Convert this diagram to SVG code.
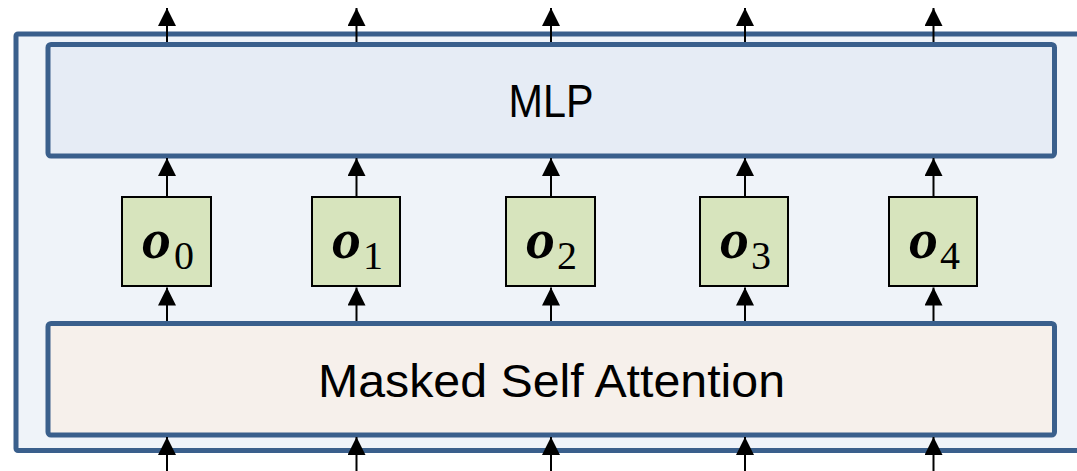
<svg xmlns="http://www.w3.org/2000/svg" width="1077" height="471" viewBox="0 0 1077 471">
  <defs>
    <marker id="ah" markerUnits="userSpaceOnUse" markerWidth="18" markerHeight="18" viewBox="0 0 17 17" refX="17" refY="8.5" orient="auto">
      <path d="M0,0 L17,8.5 L0,17 z" fill="#000"/>
    </marker>
    <style>
      .blk { stroke: #3a5f8c; stroke-width: 5; }
      .conn { stroke: #000; stroke-width: 2; fill: none; marker-end: url(#ah); }
      .obox { fill: #d7e4bd; stroke: #000; stroke-width: 2; }
      .lbl { font-family: "Liberation Sans", Arial, sans-serif; fill: #000; text-anchor: middle; }
      .ov { font-family: "Liberation Serif", "Times New Roman", serif; font-weight: bold; font-style: italic; font-size: 58px; fill: #000; }
      .os { font-family: "Liberation Serif", "Times New Roman", serif; font-size: 40px; fill: #000; }
    </style>
  </defs>
  <rect width="1077" height="471" fill="#ffffff"/>
  <g id="outer">
    <rect class="blk" x="16" y="34" width="1090" height="416.5" rx="2" fill="#eff3f9"/>
  </g>
  <g id="mlp">
    <rect class="blk" x="48" y="44.5" width="1006.5" height="111.5" rx="3" fill="#e6ecf5"/>
    <text class="lbl" x="551" y="116.5" font-size="46" textLength="85" lengthAdjust="spacingAndGlyphs">MLP</text>
  </g>
  <g id="attention">
    <rect class="blk" x="48" y="323.5" width="1006.5" height="111.5" rx="3" fill="#f6f0eb"/>
    <text class="lbl" x="551.5" y="396.5" font-size="46" textLength="467" lengthAdjust="spacingAndGlyphs">Masked Self Attention</text>
  </g>
  <g id="o0">
    <rect class="obox" x="122" y="197" width="89" height="89"/>
    <text class="ov" x="142" y="258">o</text>
    <text class="os" x="174" y="269">0</text>
  </g>
  <g id="o1">
    <rect class="obox" x="312" y="197" width="88" height="89"/>
    <text class="ov" x="332" y="258">o</text>
    <text class="os" x="363" y="269">1</text>
  </g>
  <g id="o2">
    <rect class="obox" x="506" y="197" width="89" height="89"/>
    <text class="ov" x="526" y="258">o</text>
    <text class="os" x="557" y="269">2</text>
  </g>
  <g id="o3">
    <rect class="obox" x="700" y="197" width="88" height="89"/>
    <text class="ov" x="720" y="258">o</text>
    <text class="os" x="751" y="269">3</text>
  </g>
  <g id="o4">
    <rect class="obox" x="889" y="197" width="88" height="89"/>
    <text class="ov" x="909" y="258">o</text>
    <text class="os" x="940" y="269">4</text>
  </g>
  <g id="connectors">
    <path class="conn" d="M167,42 V8"/>
    <path class="conn" d="M356.5,42 V8"/>
    <path class="conn" d="M551,42 V8"/>
    <path class="conn" d="M745,42 V8"/>
    <path class="conn" d="M933.5,42 V8"/>
    <path class="conn" d="M167,196 V158"/>
    <path class="conn" d="M356.5,196 V158"/>
    <path class="conn" d="M551,196 V158"/>
    <path class="conn" d="M745,196 V158"/>
    <path class="conn" d="M933.5,196 V158"/>
    <path class="conn" d="M167,321 V287.5"/>
    <path class="conn" d="M356.5,321 V287.5"/>
    <path class="conn" d="M551,321 V287.5"/>
    <path class="conn" d="M745,321 V287.5"/>
    <path class="conn" d="M933.5,321 V287.5"/>
    <path class="conn" d="M167,471 V437"/>
    <path class="conn" d="M356.5,471 V437"/>
    <path class="conn" d="M551,471 V437"/>
    <path class="conn" d="M745,471 V437"/>
    <path class="conn" d="M933.5,471 V437"/>
  </g>
</svg>
